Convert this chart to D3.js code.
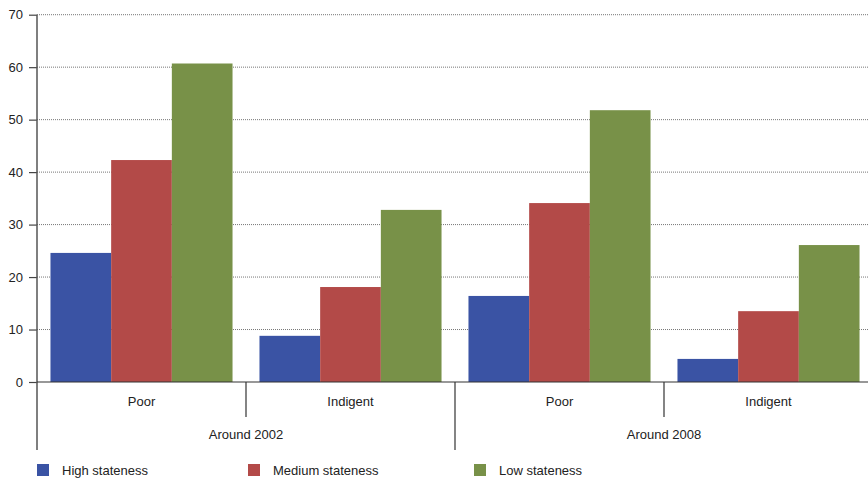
<!DOCTYPE html>
<html>
<head>
<meta charset="utf-8">
<script src="https://cdn.jsdelivr.net/npm/d3@7"></script>
<style>
  html, body { margin: 0; padding: 0; background: #fff; }
  svg { display: block; }
  text { font-family: "Liberation Sans", Arial, sans-serif; fill: #222; }
</style>
</head>
<body>
<svg id="chart" width="868" height="480"></svg>
<script>
// ---- data ----
const periods = ["Around 2002", "Around 2008"];
const levels = ["Poor", "Indigent"];
const seriesNames = ["High stateness", "Medium stateness", "Low stateness"];
const highStateness   = [24.6, 8.8, 16.4, 4.4];
const mediumStateness = [42.3, 18.1, 34.1, 13.5];
const lowStateness    = [60.7, 32.8, 51.8, 26.1];
const yTicks = [0, 10, 20, 30, 40, 50, 60, 70];
const colors = ["#3A53A4", "#B34A48", "#789148"];

const seriesValues = [highStateness, mediumStateness, lowStateness];
const groups = [];
periods.forEach(p => levels.forEach(l => groups.push({ period: p, level: l, key: p + "|" + l })));

// ---- layout ----
const svg = d3.select("#chart");
const plotLeft = 37, plotRight = 873, plotTop = 14.7, plotBottom = 382;

const x0 = d3.scaleBand().domain(groups.map(g => g.key)).range([plotLeft, plotRight]).padding(0);
const x1 = d3.scaleBand().domain(seriesNames).range([0, x0.bandwidth()]).paddingInner(0).paddingOuter(0.222);
const y = d3.scaleLinear().domain([0, 70]).range([plotBottom, plotTop]);

// gridlines
svg.append("g").selectAll("line").data(yTicks.filter(t => t > 0)).join("line")
  .attr("x1", plotLeft).attr("x2", plotRight)
  .attr("y1", d => y(d)).attr("y2", d => y(d))
  .attr("stroke", "#777").attr("stroke-width", 1).attr("stroke-dasharray", "1,1");

// bars
const gBars = svg.append("g");
groups.forEach((g, gi) => {
  gBars.append("g").attr("transform", `translate(${x0(g.key)},0)`)
    .selectAll("rect").data(seriesNames.map((s, si) => ({ s, si, v: seriesValues[si][gi] }))).join("rect")
    .attr("x", d => x1(d.s)).attr("width", x1.bandwidth())
    .attr("y", d => y(d.v)).attr("height", d => y(0) - y(d.v))
    .attr("fill", d => colors[d.si]);
});

// y axis
const yAxis = d3.axisLeft(y).tickValues(yTicks).tickSize(8).tickPadding(6);
const ga = svg.append("g").attr("transform", `translate(${plotLeft},0)`).call(yAxis);
ga.select(".domain").remove();
ga.selectAll(".tick line").attr("stroke", "#444").attr("stroke-width", 1.2);
ga.selectAll(".tick text").attr("font-size", 13).attr("fill", "#222")
  .attr("font-family", "Liberation Sans, Arial, sans-serif");
svg.append("line").attr("x1", plotLeft).attr("x2", plotLeft).attr("y1", plotTop).attr("y2", 450)
  .attr("stroke", "#555").attr("stroke-width", 1.5);

// baseline
svg.append("line").attr("x1", plotLeft).attr("x2", plotRight).attr("y1", y(0)).attr("y2", y(0))
  .attr("stroke", "#333").attr("stroke-width", 1.2);

// level labels & separators
svg.append("g").selectAll("text").data(groups).join("text")
  .attr("x", d => x0(d.key) + x0.bandwidth() / 2).attr("y", 406)
  .attr("text-anchor", "middle").attr("font-size", 13).text(d => d.level);

svg.append("g").selectAll("line").data(groups.filter(g => g.level === levels[levels.length - 1])).join("line")
  .attr("x1", d => x0(d.key)).attr("x2", d => x0(d.key))
  .attr("y1", y(0)).attr("y2", 417).attr("stroke", "#333").attr("stroke-width", 1.2);

// period labels & separators
const periodStart = p => x0(p + "|" + levels[0]);
const periodEnd = p => x0(p + "|" + levels[levels.length - 1]) + x0.bandwidth();
svg.append("g").selectAll("text").data(periods).join("text")
  .attr("x", p => (periodStart(p) + periodEnd(p)) / 2).attr("y", 439)
  .attr("text-anchor", "middle").attr("font-size", 13).text(p => p);
svg.append("g").selectAll("line").data(periods.slice(1)).join("line")
  .attr("x1", p => periodStart(p)).attr("x2", p => periodStart(p))
  .attr("y1", y(0)).attr("y2", 450).attr("stroke", "#333").attr("stroke-width", 1.2);

// legend
const legendX = [37, 248, 474];
const lg = svg.append("g").selectAll("g").data(seriesNames).join("g")
  .attr("transform", (d, i) => `translate(${legendX[i]},464)`);
lg.append("rect").attr("width", 12).attr("height", 12).attr("fill", (d, i) => colors[i]);
lg.append("text").attr("x", 25).attr("y", 10.5).attr("font-size", 13).text(d => d);
</script>
</body>
</html>
